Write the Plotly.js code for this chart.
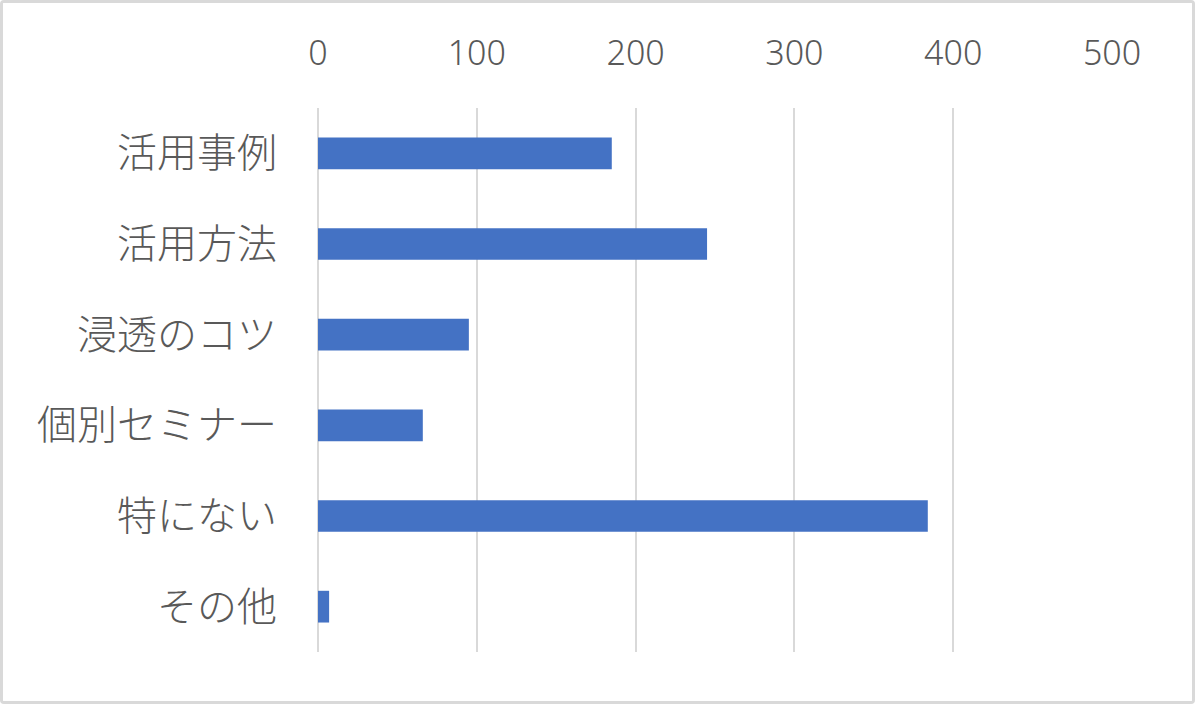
<!DOCTYPE html>
<html>
<head>
<meta charset="utf-8">
<script src="https://cdn.plot.ly/plotly-3.0.1.min.js"></script>
<style>
  html, body { margin: 0; padding: 0; background: #ffffff; }
  #frame { width: 1195px; height: 704px; box-sizing: border-box; border: 3px solid #d9d9d9; border-radius: 4px; overflow: hidden; }
  #chart { width: 1189px; height: 698px; }
</style>
</head>
<body>
<div id="frame"><div id="chart"></div></div>
<script>
var categories = ['活用事例', '活用方法', '浸透のコツ', '個別セミナー', '特にない', 'その他'];
var counts = [185, 245, 95, 66, 384, 7];
var tickValues = [0, 100, 200, 300, 400, 500];

var trace = {
    type: 'bar',
    orientation: 'h',
    x: counts,
    y: categories,
    width: 0.35,
    marker: { color: '#4472c4' },
    hoverinfo: 'x+y'
};

var layout = {
    width: 1189,
    height: 698,
    paper_bgcolor: '#ffffff',
    plot_bgcolor: '#ffffff',
    font: { family: '"Noto Sans CJK JP", "Noto Sans", sans-serif', color: '#595959' },
    margin: { l: 315, r: 80, t: 105, b: 49 },
    showlegend: false,
    xaxis: {
        side: 'top',
        range: [0, 500],
        tickvals: tickValues,
        ticktext: tickValues.map(String),
        tickfont: { size: 34, color: '#595959', family: '"Noto Sans", "Open Sans", sans-serif', weight: 300 },
        showgrid: true,
        gridcolor: '#d9d9d9',
        gridwidth: 2,
        zeroline: true,
        zerolinecolor: '#d9d9d9',
        zerolinewidth: 2,
        showline: false,
        ticks: '',
        ticklabelstandoff: 35,
        fixedrange: true
    },
    yaxis: {
        autorange: 'reversed',
        tickfont: { size: 40, color: '#595959', family: '"Noto Sans CJK JP", sans-serif', weight: 300 },
        showgrid: false,
        showline: false,
        ticks: '',
        ticklabelstandoff: 40,
        fixedrange: true
    }
};

Plotly.newPlot('chart', [trace], layout, { displayModeBar: false, responsive: false });
</script>
</body>
</html>
